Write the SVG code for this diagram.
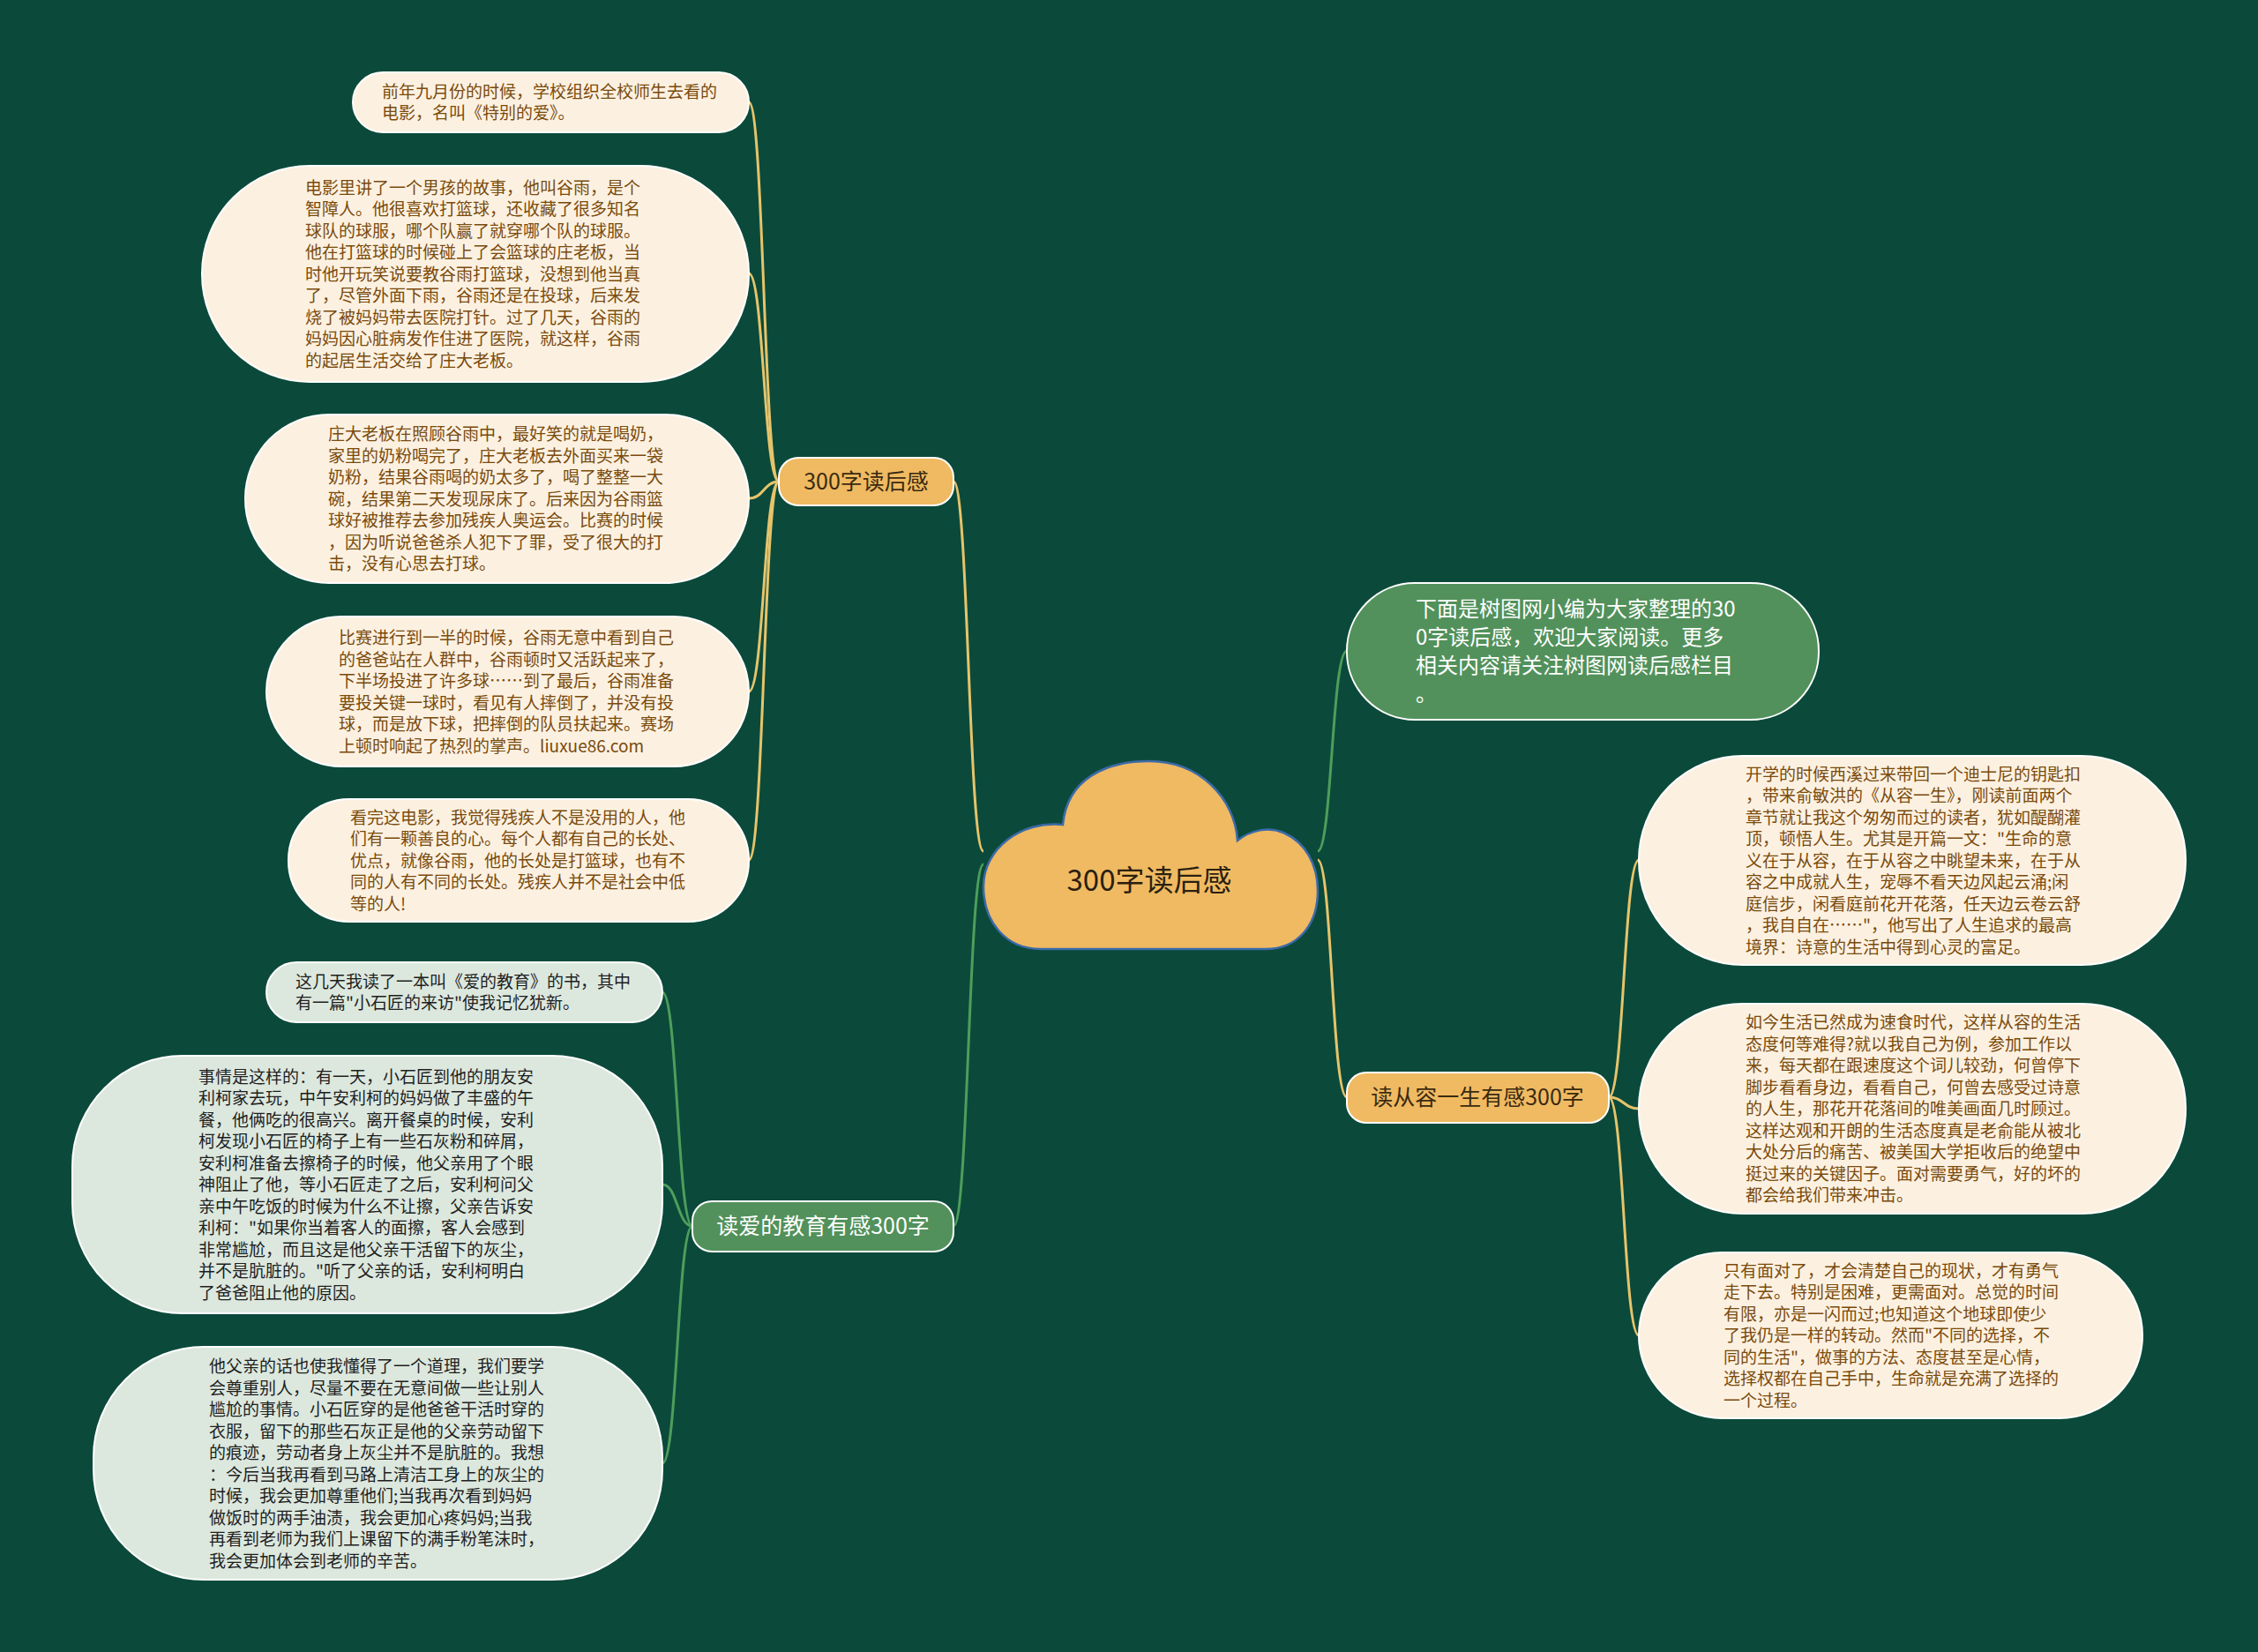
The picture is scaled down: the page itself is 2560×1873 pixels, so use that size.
<svg xmlns="http://www.w3.org/2000/svg" width="2560" height="1873" viewBox="0 0 2560 1873">
<style>
text{font-family:"Noto Sans CJK SC","Noto Sans",sans-serif;}
.cream{fill:#FCF1E1;stroke:#FFFFFF;stroke-width:2;}
.mint{fill:#DCE8DE;stroke:#FFFFFF;stroke-width:2;}
.orange{fill:#F0BA62;stroke:#FFFFFF;stroke-width:2;}
.green{fill:#52915B;stroke:#FFFFFF;stroke-width:2;}
.tb{font-size:19px;fill:#7A4A0C;}
.tg{font-size:19px;fill:#1E1E1E;}
.tw{font-size:24px;fill:#FFFFFF;}
.tbr{font-size:25px;fill:#3A2A10;text-anchor:middle;}
.tbw{font-size:25px;fill:#FFFFFF;text-anchor:middle;}
.cy{fill:none;stroke:#E6C46C;stroke-width:3;}
.cg{fill:none;stroke:#4E9E5C;stroke-width:3;}
</style>
<rect width="2560" height="1873" fill="#0B4A3A"/>
<g id="connectors">
<path class="cy" d="M1115 965 C1098 965 1098 546 1081 546"/>
<path class="cg" d="M1115 980 C1098 980 1098 1390 1081 1390"/>
<path class="cg" d="M1494 965 C1510 965 1510 738 1527 738"/>
<path class="cy" d="M1494 975 C1510 975 1510 1244 1527 1244"/>
<path class="cy" d="M883 546 C866 546 866 116 849 116"/>
<path class="cy" d="M883 546 C866 546 866 310 849 310"/>
<path class="cy" d="M883 546 C866 546 866 565 849 565"/>
<path class="cy" d="M883 546 C866 546 866 784 849 784"/>
<path class="cy" d="M883 546 C866 546 866 975 849 975"/>
<path class="cg" d="M785 1390 C768 1390 768 1125 751 1125"/>
<path class="cg" d="M785 1390 C768 1390 768 1343 751 1343"/>
<path class="cg" d="M785 1390 C768 1390 768 1659 751 1659"/>
<path class="cy" d="M1824 1244 C1841 1244 1841 975 1858 975"/>
<path class="cy" d="M1824 1244 C1841 1244 1841 1257 1858 1257"/>
<path class="cy" d="M1824 1244 C1841 1244 1841 1514 1858 1514"/>
</g>
<g id="root">
<path d="M1180 1076 C1140 1076 1115 1045 1115 1005 C1115 962 1158 930 1205 935 C1210 882 1255 863 1303 863 C1360 863 1400 905 1403 953 C1418 941 1438 937 1455 944 C1480 955 1494 980 1494 1010 C1494 1050 1470 1076 1435 1076 Z" fill="#F0BA62" stroke="#3C6AA8" stroke-width="2.5"/>
<text x="1303" y="1010" font-size="33" fill="#2A2010" text-anchor="middle">300字读后感</text>
</g>
<g id="b1">
<rect class="orange" x="883" y="519" width="198" height="54" rx="22"/>
<text class="tbr" x="982" y="555">300字读后感</text>
</g>
<g id="b2">
<rect class="green" x="1527" y="661" width="535" height="155" rx="77"/>
<text class="tw" x="1605" y="699"><tspan x="1605">下面是树图网小编为大家整理的30</tspan><tspan x="1605" dy="32">0字读后感，欢迎大家阅读。更多</tspan><tspan x="1605" dy="32">相关内容请关注树图网读后感栏目</tspan><tspan x="1605" dy="32">。</tspan></text>
</g>
<g id="b3">
<rect class="orange" x="1527" y="1216" width="297" height="57" rx="22"/>
<text class="tbr" x="1675" y="1253">读从容一生有感300字</text>
</g>
<g id="b4">
<rect class="green" x="785" y="1362" width="296" height="57" rx="22"/>
<text class="tbw" x="933" y="1399">读爱的教育有感300字</text>
</g>
<g id="l1">
<rect class="cream" x="400" y="82" width="449" height="68" rx="34"/>
<text class="tb" x="433" y="111"><tspan x="433">前年九月份的时候，学校组织全校师生去看的</tspan><tspan x="433" dy="24">电影，名叫《特别的爱》。</tspan></text>
</g>
<g id="l2">
<rect class="cream" x="229" y="188" width="620" height="245" rx="122"/>
<text class="tb" x="346" y="219.5"><tspan x="346">电影里讲了一个男孩的故事，他叫谷雨，是个</tspan><tspan x="346" dy="24.5">智障人。他很喜欢打篮球，还收藏了很多知名</tspan><tspan x="346" dy="24.5">球队的球服，哪个队赢了就穿哪个队的球服。</tspan><tspan x="346" dy="24.5">他在打篮球的时候碰上了会篮球的庄老板，当</tspan><tspan x="346" dy="24.5">时他开玩笑说要教谷雨打篮球，没想到他当真</tspan><tspan x="346" dy="24.5">了，尽管外面下雨，谷雨还是在投球，后来发</tspan><tspan x="346" dy="24.5">烧了被妈妈带去医院打针。过了几天，谷雨的</tspan><tspan x="346" dy="24.5">妈妈因心脏病发作住进了医院，就这样，谷雨</tspan><tspan x="346" dy="24.5">的起居生活交给了庄大老板。</tspan></text>
</g>
<g id="l3">
<rect class="cream" x="278" y="470" width="571" height="191" rx="95"/>
<text class="tb" x="372" y="499"><tspan x="372">庄大老板在照顾谷雨中，最好笑的就是喝奶，</tspan><tspan x="372" dy="24.5">家里的奶粉喝完了，庄大老板去外面买来一袋</tspan><tspan x="372" dy="24.5">奶粉，结果谷雨喝的奶太多了，喝了整整一大</tspan><tspan x="372" dy="24.5">碗，结果第二天发现尿床了。后来因为谷雨篮</tspan><tspan x="372" dy="24.5">球好被推荐去参加残疾人奥运会。比赛的时候</tspan><tspan x="372" dy="24.5">，因为听说爸爸杀人犯下了罪，受了很大的打</tspan><tspan x="372" dy="24.5">击，没有心思去打球。</tspan></text>
</g>
<g id="l4">
<rect class="cream" x="302" y="699" width="547" height="170" rx="85"/>
<text class="tb" x="384" y="730"><tspan x="384">比赛进行到一半的时候，谷雨无意中看到自己</tspan><tspan x="384" dy="24.5">的爸爸站在人群中，谷雨顿时又活跃起来了，</tspan><tspan x="384" dy="24.5">下半场投进了许多球……到了最后，谷雨准备</tspan><tspan x="384" dy="24.5">要投关键一球时，看见有人摔倒了，并没有投</tspan><tspan x="384" dy="24.5">球，而是放下球，把摔倒的队员扶起来。赛场</tspan><tspan x="384" dy="24.5">上顿时响起了热烈的掌声。liuxue86.com</tspan></text>
</g>
<g id="l5">
<rect class="cream" x="327" y="906" width="522" height="139" rx="69"/>
<text class="tb" x="397" y="933.5"><tspan x="397">看完这电影，我觉得残疾人不是没用的人，他</tspan><tspan x="397" dy="24.5">们有一颗善良的心。每个人都有自己的长处、</tspan><tspan x="397" dy="24.5">优点，就像谷雨，他的长处是打篮球，也有不</tspan><tspan x="397" dy="24.5">同的人有不同的长处。残疾人并不是社会中低</tspan><tspan x="397" dy="24.5">等的人!</tspan></text>
</g>
<g id="g1">
<rect class="mint" x="302" y="1091" width="449" height="68" rx="34"/>
<text class="tg" x="335" y="1120"><tspan x="335">这几天我读了一本叫《爱的教育》的书，其中</tspan><tspan x="335" dy="24">有一篇"小石匠的来访"使我记忆犹新。</tspan></text>
</g>
<g id="g2">
<rect class="mint" x="82" y="1197" width="669" height="292" rx="125"/>
<text class="tg" x="225" y="1227.5"><tspan x="225">事情是这样的：有一天，小石匠到他的朋友安</tspan><tspan x="225" dy="24.5">利柯家去玩，中午安利柯的妈妈做了丰盛的午</tspan><tspan x="225" dy="24.5">餐，他俩吃的很高兴。离开餐桌的时候，安利</tspan><tspan x="225" dy="24.5">柯发现小石匠的椅子上有一些石灰粉和碎屑，</tspan><tspan x="225" dy="24.5">安利柯准备去擦椅子的时候，他父亲用了个眼</tspan><tspan x="225" dy="24.5">神阻止了他，等小石匠走了之后，安利柯问父</tspan><tspan x="225" dy="24.5">亲中午吃饭的时候为什么不让擦，父亲告诉安</tspan><tspan x="225" dy="24.5">利柯："如果你当着客人的面擦，客人会感到</tspan><tspan x="225" dy="24.5">非常尴尬，而且这是他父亲干活留下的灰尘，</tspan><tspan x="225" dy="24.5">并不是肮脏的。"听了父亲的话，安利柯明白</tspan><tspan x="225" dy="24.5">了爸爸阻止他的原因。</tspan></text>
</g>
<g id="g3">
<rect class="mint" x="106" y="1527" width="645" height="264" rx="125"/>
<text class="tg" x="237" y="1556"><tspan x="237">他父亲的话也使我懂得了一个道理，我们要学</tspan><tspan x="237" dy="24.5">会尊重别人，尽量不要在无意间做一些让别人</tspan><tspan x="237" dy="24.5">尴尬的事情。小石匠穿的是他爸爸干活时穿的</tspan><tspan x="237" dy="24.5">衣服，留下的那些石灰正是他的父亲劳动留下</tspan><tspan x="237" dy="24.5">的痕迹，劳动者身上灰尘并不是肮脏的。我想</tspan><tspan x="237" dy="24.5">：今后当我再看到马路上清洁工身上的灰尘的</tspan><tspan x="237" dy="24.5">时候，我会更加尊重他们;当我再次看到妈妈</tspan><tspan x="237" dy="24.5">做饭时的两手油渍，我会更加心疼妈妈;当我</tspan><tspan x="237" dy="24.5">再看到老师为我们上课留下的满手粉笔沫时，</tspan><tspan x="237" dy="24.5">我会更加体会到老师的辛苦。</tspan></text>
</g>
<g id="r1">
<rect class="cream" x="1858" y="857" width="620" height="237" rx="118"/>
<text class="tb" x="1979" y="884.5"><tspan x="1979">开学的时候西溪过来带回一个迪士尼的钥匙扣</tspan><tspan x="1979" dy="24.5">，带来俞敏洪的《从容一生》，刚读前面两个</tspan><tspan x="1979" dy="24.5">章节就让我这个匆匆而过的读者，犹如醍醐灌</tspan><tspan x="1979" dy="24.5">顶，顿悟人生。尤其是开篇一文："生命的意</tspan><tspan x="1979" dy="24.5">义在于从容，在于从容之中眺望未来，在于从</tspan><tspan x="1979" dy="24.5">容之中成就人生，宠辱不看天边风起云涌;闲</tspan><tspan x="1979" dy="24.5">庭信步，闲看庭前花开花落，任天边云卷云舒</tspan><tspan x="1979" dy="24.5">，我自自在……"，他写出了人生追求的最高</tspan><tspan x="1979" dy="24.5">境界：诗意的生活中得到心灵的富足。</tspan></text>
</g>
<g id="r2">
<rect class="cream" x="1858" y="1138" width="620" height="238" rx="118"/>
<text class="tb" x="1979" y="1166"><tspan x="1979">如今生活已然成为速食时代，这样从容的生活</tspan><tspan x="1979" dy="24.5">态度何等难得?就以我自己为例，参加工作以</tspan><tspan x="1979" dy="24.5">来，每天都在跟速度这个词儿较劲，何曾停下</tspan><tspan x="1979" dy="24.5">脚步看看身边，看看自己，何曾去感受过诗意</tspan><tspan x="1979" dy="24.5">的人生，那花开花落间的唯美画面几时顾过。</tspan><tspan x="1979" dy="24.5">这样达观和开朗的生活态度真是老俞能从被北</tspan><tspan x="1979" dy="24.5">大处分后的痛苦、被美国大学拒收后的绝望中</tspan><tspan x="1979" dy="24.5">挺过来的关键因子。面对需要勇气，好的坏的</tspan><tspan x="1979" dy="24.5">都会给我们带来冲击。</tspan></text>
</g>
<g id="r3">
<rect class="cream" x="1858" y="1420" width="571" height="188" rx="94"/>
<text class="tb" x="1954" y="1447.5"><tspan x="1954">只有面对了，才会清楚自己的现状，才有勇气</tspan><tspan x="1954" dy="24.5">走下去。特别是困难，更需面对。总觉的时间</tspan><tspan x="1954" dy="24.5">有限，亦是一闪而过;也知道这个地球即使少</tspan><tspan x="1954" dy="24.5">了我仍是一样的转动。然而"不同的选择，不</tspan><tspan x="1954" dy="24.5">同的生活"，做事的方法、态度甚至是心情，</tspan><tspan x="1954" dy="24.5">选择权都在自己手中，生命就是充满了选择的</tspan><tspan x="1954" dy="24.5">一个过程。</tspan></text>
</g>
</svg>
